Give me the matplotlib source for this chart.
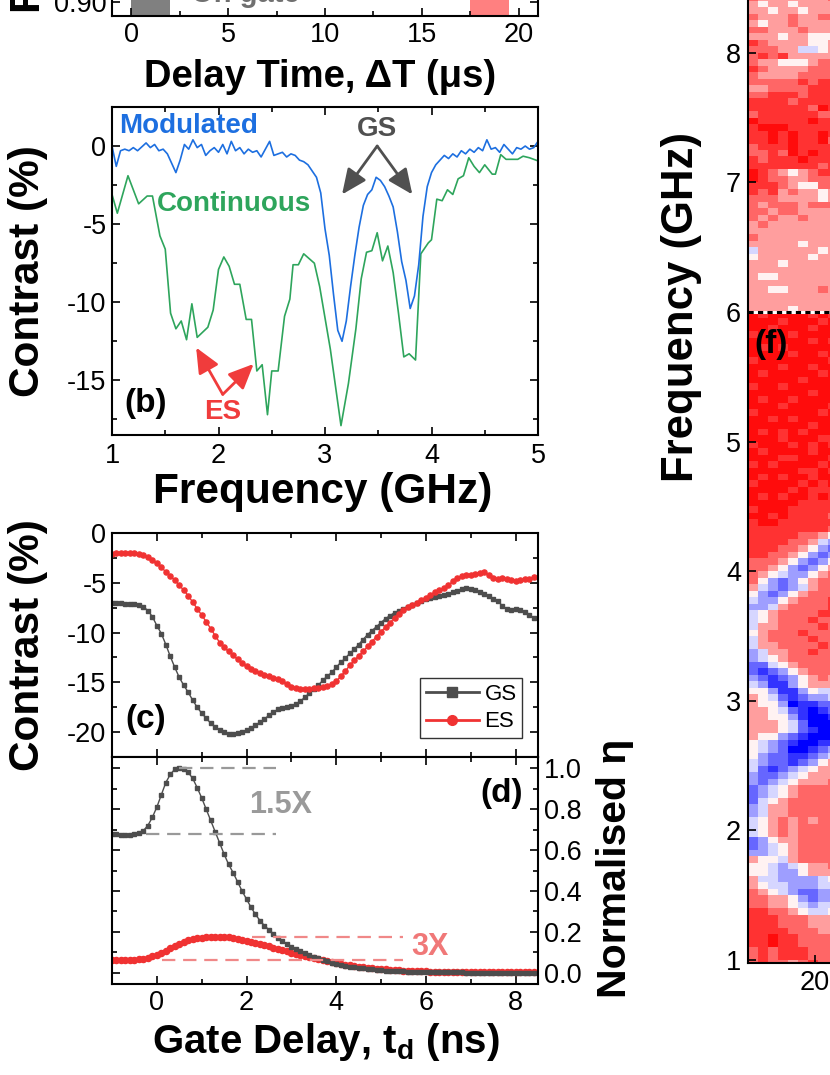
import numpy as np
import matplotlib
matplotlib.use('Agg')
import matplotlib.pyplot as plt
from matplotlib.ticker import MultipleLocator
from matplotlib.lines import Line2D

plt.rcParams['font.family'] = 'Liberation Sans'
plt.rcParams['mathtext.fontset'] = 'custom'
plt.rcParams['mathtext.rm'] = 'Liberation Sans'
plt.rcParams['mathtext.bf'] = 'Liberation Sans:bold'
plt.rcParams['axes.unicode_minus'] = False

# ---------------- data ----------------
# (a) gate windows on the delay-time axis (us)
gate_windows = [(0.0, 2.0), (17.5, 19.5)]
gate_colors = ['#808080', '#ff8080']

# (b) ODMR contrast vs frequency
mod_contrast = [
    0.0, -1.3, -0.3, -0.2, -0.3, -0.1, -0.3, -0.05, 0.2, -0.1,
    0.1, -0.3, -0.2, -0.5, -1.1, -1.7, -0.9, 0.1, -0.2, 0.4,
    -0.1, 0.1, -0.6, -0.3, -0.1, -0.4, 0.1, -0.5, 0.3, -0.3,
    -0.1, -0.5, -0.2, -0.4, -0.3, -0.7, -0.2, 0.3, -0.6, -0.5,
    -0.4, -0.7, -0.5, -0.6, -0.9, -1.0, -1.2, -1.6, -2.0, -3.0,
    -5.3, -7.0, -9.5, -11.8, -12.5, -11.2, -9.0, -7.0, -5.2, -3.8,
    -3.1, -2.8, -2.0, -2.2, -2.6, -3.2, -3.9, -5.5, -7.4, -8.6,
    -10.4, -9.6, -7.6, -4.5, -2.6, -1.7, -1.2, -0.9, -0.6, -0.8,
    -0.5, -0.7, -0.3, -0.5, -0.2, -0.4, -0.1, -0.3, 0.4, -0.2,
    -0.1, -0.4, 0.1, -0.2, -0.5, -0.1, -0.2, 0.0, -0.2, -0.1,
    0.3]
mod_freq = np.linspace(1.0, 5.0, len(mod_contrast))

cont_freq = [1.00, 1.05, 1.15, 1.25, 1.33, 1.38, 1.45, 1.50, 1.55, 1.60,
             1.65, 1.70, 1.75, 1.80, 1.90, 1.95, 2.00, 2.05, 2.10, 2.15,
             2.20, 2.26, 2.31, 2.36, 2.41, 2.46, 2.50, 2.56, 2.62, 2.67,
             2.70, 2.75, 2.80, 2.90, 2.95, 3.05, 3.15, 3.22, 3.29, 3.34,
             3.39, 3.44, 3.49, 3.54, 3.59, 3.64, 3.69, 3.74, 3.79, 3.85,
             3.90, 3.97, 4.00, 4.05, 4.10, 4.15, 4.20, 4.25, 4.30, 4.35,
             4.40, 4.45, 4.50, 4.57, 4.60, 4.65, 4.70, 4.76, 4.81, 4.86,
             4.92, 5.00]
cont_contrast = [-3.1, -4.3, -1.9, -3.7, -3.2, -3.2, -5.75, -6.6, -10.7, -11.7,
                 -11.2, -12.4, -10.1, -12.25, -11.6, -10.5, -7.9, -7.1, -7.7, -8.85,
                 -8.85, -11.1, -11.1, -14.4, -14.0, -17.2, -14.4, -14.4, -10.9, -9.8,
                 -7.6, -7.6, -6.9, -7.5, -9.0, -13.0, -17.9, -15.2, -11.7, -8.5,
                 -6.8, -6.7, -5.55, -7.35, -6.4, -8.1, -10.7, -13.5, -13.3, -13.7,
                 -6.9, -6.2, -6.0, -3.4, -3.5, -2.8, -3.1, -2.1, -1.9, -0.75,
                 -1.3, -1.7, -1.2, -1.8, -1.8, -0.55, -0.85, -0.85, -0.85, -0.65,
                 -0.75, -0.95]

# (c), (d) gate-delay scans, t_d = -1.0 ... 8.4 ns
gate_delay = np.round(np.arange(-1.0, 8.45, 0.1), 1)
gs_contrast = [
    -7.07, -7.07, -7.08, -7.1, -7.1, -7.12, -7.2, -7.4, -7.8, -8.4,
    -9.3, -10.1, -11.2, -12.4, -13.5, -14.5, -15.3, -16.0, -16.8, -17.5,
    -18.1, -18.6, -19.1, -19.5, -19.8, -20.0, -20.2, -20.2, -20.1, -20.0,
    -19.8, -19.6, -19.3, -19.0, -18.7, -18.3, -18.0, -17.7, -17.6, -17.5,
    -17.4, -17.2, -16.9, -16.5, -16.1, -15.7, -15.3, -14.8, -14.4, -14.0,
    -13.5, -13.0, -12.6, -12.1, -11.7, -11.2, -10.7, -10.2, -9.8, -9.4,
    -9.0, -8.6, -8.3, -8.0, -7.8, -7.6, -7.4, -7.2, -7.0, -6.8,
    -6.65, -6.5, -6.4, -6.3, -6.2, -6.1, -5.95, -5.8, -5.65, -5.5,
    -5.6, -5.75, -5.95, -6.15, -6.35, -6.6, -6.8, -7.3, -7.6, -7.7,
    -7.6, -7.7, -7.9, -8.2, -8.5]
es_contrast = [
    -2.07, -2.05, -2.03, -2.03, -2.05, -2.05, -2.1, -2.25, -2.45, -2.75,
    -3.05, -3.45, -3.9, -4.3, -4.75, -5.25, -5.75, -6.3, -6.95, -7.6,
    -8.25, -8.9, -9.6, -10.3, -11.0, -11.5, -11.9, -12.3, -12.7, -13.1,
    -13.4, -13.65, -13.9, -14.05, -14.25, -14.4, -14.55, -14.7, -14.9, -15.2,
    -15.45, -15.6, -15.7, -15.7, -15.65, -15.6, -15.55, -15.45, -15.35, -15.2,
    -14.9, -14.4, -13.9, -13.3, -12.8, -12.35, -11.9, -11.4, -10.9, -10.4,
    -9.9, -9.45, -9.0, -8.55, -8.1, -7.75, -7.45, -7.25, -7.0, -6.75,
    -6.5, -6.2, -5.95, -5.75, -5.5, -5.25, -4.85, -4.5, -4.35, -4.25,
    -4.2, -4.1, -4.0, -3.95, -4.2, -4.5, -4.65, -4.55, -4.6, -4.75,
    -4.8, -4.7, -4.65, -4.6, -4.45]
gs_eta = [
    0.677, 0.677, 0.676, 0.675, 0.676, 0.678, 0.682, 0.695, 0.72, 0.76,
    0.81, 0.87, 0.93, 0.97, 0.995, 1.0, 0.995, 0.98, 0.95, 0.905,
    0.855, 0.80, 0.745, 0.69, 0.635, 0.58, 0.53, 0.49, 0.445, 0.40,
    0.36, 0.32, 0.285, 0.255, 0.23, 0.21, 0.19, 0.17, 0.155, 0.14,
    0.128, 0.117, 0.105, 0.095, 0.086, 0.078, 0.071, 0.064, 0.057, 0.05,
    0.044, 0.04, 0.035, 0.03, 0.027, 0.024, 0.021, 0.018, 0.016, 0.014,
    0.012, 0.011, 0.01, 0.009, 0.008, 0.007, 0.006, 0.005, 0.005, 0.004,
    0.004, 0.003, 0.003, 0.003, 0.002, 0.002, 0.002, 0.002, 0.002, 0.001,
    0.001, 0.001, 0.001, 0.001, 0.001, 0.001, 0.001, 0.001, 0.001, 0.001,
    0.001, 0.001, 0.001, 0.001, 0.001]
es_eta = [
    0.062, 0.062, 0.062, 0.062, 0.062, 0.063, 0.065, 0.069, 0.074, 0.08,
    0.088, 0.097, 0.108, 0.12, 0.132, 0.142, 0.151, 0.158, 0.164, 0.168,
    0.172, 0.174, 0.176, 0.177, 0.177, 0.176, 0.174, 0.171, 0.167, 0.162,
    0.157, 0.152, 0.146, 0.141, 0.135, 0.129, 0.123, 0.117, 0.111, 0.105,
    0.099, 0.093, 0.088, 0.082, 0.077, 0.072, 0.067, 0.062, 0.057, 0.053,
    0.048, 0.044, 0.04, 0.036, 0.032, 0.029, 0.026, 0.024, 0.022, 0.02,
    0.018, 0.016, 0.015, 0.013, 0.012, 0.011, 0.01, 0.009, 0.008, 0.008,
    0.007, 0.006, 0.006, 0.005, 0.005, 0.005, 0.004, 0.004, 0.004, 0.003,
    0.003, 0.003, 0.003, 0.003, 0.002, 0.002, 0.002, 0.002, 0.002, 0.002,
    0.002, 0.002, 0.002, 0.002, 0.002]

# (e)/(f) colour map, rows listed top -> bottom, one digit per column
# digit level: 0 deep blue ... 5 white ... 9 deep red
level_value = {'0': -1.0, '1': -0.8, '2': -0.6, '3': -0.38, '4': -0.16,
               '5': 0.05, '6': 0.38, '7': 0.6, '8': 0.8, '9': 0.95}
map_upper = [
    "666666666", "766666667",
    "656656666", "665665666", "766676677", "656676666", "776667666",
    "666566555", "876666556", "777664456", "787866666", "766555677",
    "876666777", "766667777", "777778788", "667777888", "778887888",
    "888878888", "888888798", "788888877", "988888988", "899988888",
    "889898898", "889898897", "788898888", "778798988", "878889888",
    "888888878", "987656788", "987766777", "888765577", "878676656",
    "777666656", "767776777", "776776666", "767667666", "676666666",
    "666666666", "766666666", "666665666", "466666656", "566666566",
    "666566666", "666666666", "655666666", "666666666", "665566676",
    "666666666", "666666666", "666656666"]
map_lower = [
    "989999898", "999899989", "998999899", "899989999", "999999898",
    "989899999", "999989989", "899999998", "999899899", "989999989",
    "999998999", "899899999", "999999899", "989989999", "999899998",
    "899999989", "998989999", "999999899", "989898999", "999899988",
    "899989898", "989999899", "999889998", "898999989", "999998898",
    "989899899", "899998989", "999989888", "989899898", "999998888",
    "899988888", "998988887", "899888888", "888888887",
    "888887765", "888877643", "888776532", "887765323", "777653235",
    "776532356", "765433567", "753235677", "643234677", "532356777",
    "433567778", "334677778", "456777788", "456777877", "466777787",
    "567778777", "467777877", "466777787", "346677877", "345677777",
    "224567777", "212356777", "321235676", "431135666", "553113544",
    "654212334", "655301122", "665421012", "665531001", "666542000",
    "666542100", "655321000", "543210011", "543200123", "532211234",
    "432212356", "421234566", "322345666", "323456667", "234567777",
    "234567777", "245677777", "346677777", "346677777", "456767677",
    "456767777", "456767777", "235667777", "234567777", "334567777",
    "655467777", "554345667", "554335666", "644333345", "654433344",
    "765432233", "776653233", "776654344", "887765445", "888777666",
    "888777666", "888877766", "889887777", "889887777", "787888777",
    "787888777", "787767877"]
map_cols = np.arange(10) + 13.3

# ---------------- figure ----------------
fig = plt.figure(figsize=(8.3, 10.75), dpi=100)


def px_box(left, top, right, bottom):
    return [left / 830, 1 - bottom / 1075, (right - left) / 830, (bottom - top) / 1075]


def style(ax, pad=4):
    for s in ax.spines.values():
        s.set_linewidth(1.5)
    ax.tick_params(which='both', direction='in', top=True, right=True,
                   width=1.2, labelsize=19.5, pad=pad)
    ax.tick_params(which='major', length=6)
    ax.tick_params(which='minor', length=3.5)


LABEL = dict(fontsize=30.5, fontweight='bold')

# (a) bottom strip of the delay-time panel
ax_a = fig.add_axes(px_box(112, -100, 538, 16))
for (x0, x1), c in zip(gate_windows, gate_colors):
    ax_a.axvspan(x0, x1, color=c, lw=0)
ax_a.set_xlim(-1, 21)
ax_a.set_ylim(0.88, 1.04)
ax_a.xaxis.set_major_locator(MultipleLocator(5))
ax_a.xaxis.set_minor_locator(MultipleLocator(2.5))
ax_a.set_yticks([0.90, 0.95, 1.00])
ax_a.set_yticklabels(['0.90', '0.95', '1.00'])
style(ax_a, pad=4)
ax_a.text(3.1, 0.8993, 'On gate', color='#707070', fontsize=21,
          fontweight='bold', va='baseline')
fig.text(29 / 830, 1 - 13 / 1075, 'Fluorescence (norm.)', rotation=90,
         ha='center', va='bottom', **LABEL)
fig.text(320 / 830, 1 - 77 / 1075, 'Delay Time, \u0394T (\u03bcs)',
         ha='center', va='center', fontsize=27.5, fontweight='bold')

# (b) ODMR spectra
ax_b = fig.add_axes(px_box(112, 107, 538, 435))
ax_b.plot(cont_freq, cont_contrast, color='#2ea55c', lw=1.2)
ax_b.plot(mod_freq, mod_contrast, color='#1d6fe0', lw=1.2)
ax_b.set_xlim(1, 5)
ax_b.set_ylim(-18.5, 2.5)
ax_b.xaxis.set_major_locator(MultipleLocator(1))
ax_b.xaxis.set_minor_locator(MultipleLocator(0.5))
ax_b.yaxis.set_major_locator(MultipleLocator(5))
ax_b.yaxis.set_minor_locator(MultipleLocator(2.5))
style(ax_b, pad=6)
ax_b.tick_params(axis='y', pad=4)
ax_b.text(1.07, 1.3, 'Modulated', color='#1d6fe0', fontsize=20,
          fontweight='bold', va='center')
ax_b.text(1.42, -3.73, 'Continuous', color='#2ea55c', fontsize=20,
          fontweight='bold', va='center')
ax_b.text(3.49, 1.1, 'GS', color='#505050', fontsize=20,
          fontweight='bold', ha='center', va='center')
ax_b.text(2.04, -17.05, 'ES', color='#f03c3c', fontsize=20,
          fontweight='bold', ha='center', va='center')
ax_b.text(1.32, -16.5, '(b)', fontsize=24, fontweight='bold',
          ha='center', va='center')
arrow_gs = dict(arrowstyle='-|>,head_length=0.9,head_width=0.4', color='#505050',
                lw=2, shrinkA=0, shrinkB=0, mutation_scale=17)
arrow_es = dict(arrowstyle='-|>,head_length=0.9,head_width=0.4', color='#f03c3c',
                lw=2, shrinkA=0, shrinkB=0, mutation_scale=17)
for tip in [(3.16, -3.1), (3.82, -3.1)]:
    ax_b.annotate('', xy=tip, xytext=(3.49, 0.0), arrowprops=arrow_gs)
for tip in [(1.79, -12.9), (2.33, -13.95)]:
    ax_b.annotate('', xy=tip, xytext=(2.04, -15.9), arrowprops=arrow_es)
fig.text(28 / 830, 1 - 271 / 1075, 'Contrast (%)', rotation=90,
         ha='center', va='center', **LABEL)
fig.text(323 / 830, 1 - 492 / 1075, 'Frequency (GHz)', ha='center',
         va='center', **LABEL)

# (c) contrast vs gate delay
ax_c = fig.add_axes(px_box(112, 533, 538, 757))
ax_c.plot(gate_delay, gs_contrast, color='#4d4d4d', lw=1, marker='s',
          ms=3.5, mec='#4d4d4d')
ax_c.plot(gate_delay, es_contrast, color='#f03232', lw=1, marker='o',
          ms=3.7, mec='#f03232')
ax_c.set_xlim(-1, 8.5)
ax_c.set_ylim(-22.5, 0)
ax_c.xaxis.set_major_locator(MultipleLocator(2))
ax_c.xaxis.set_minor_locator(MultipleLocator(1))
ax_c.yaxis.set_major_locator(MultipleLocator(5))
ax_c.yaxis.set_minor_locator(MultipleLocator(2.5))
style(ax_c, pad=4)
ax_c.tick_params(axis='x', labelbottom=False)
handles = [Line2D([], [], color='#4d4d4d', marker='s', ms=7, lw=2),
           Line2D([], [], color='#f03232', marker='o', ms=7, lw=2)]
leg = ax_c.legend(handles, ['GS', 'ES'], loc='lower right',
                  bbox_to_anchor=(0.963, 0.085), borderaxespad=0, fontsize=16,
                  frameon=True, fancybox=False, handlelength=2.4,
                  handletextpad=0.25, borderpad=0.25, labelspacing=0.3)
leg.get_frame().set_edgecolor('black')
leg.get_frame().set_linewidth(1)
ax_c.text(-0.24, -18.7, '(c)', fontsize=24, fontweight='bold',
          ha='center', va='center')
fig.text(28 / 830, 1 - 645 / 1075, 'Contrast (%)', rotation=90,
         ha='center', va='center', **LABEL)

# (d) normalised efficiency
ax_d = fig.add_axes(px_box(112, 757, 538, 984))
ax_d.plot(gate_delay, es_eta, color='#f03232', lw=1, marker='o', ms=4.4,
          mec='#f03232')
ax_d.plot(gate_delay, gs_eta, color='#4d4d4d', lw=1, marker='s', ms=2.8,
          mec='#4d4d4d')
ax_d.set_xlim(-1, 8.5)
ax_d.set_ylim(-0.055, 1.055)
ax_d.xaxis.set_major_locator(MultipleLocator(2))
ax_d.xaxis.set_minor_locator(MultipleLocator(1))
ax_d.yaxis.set_major_locator(MultipleLocator(0.2))
ax_d.yaxis.set_minor_locator(MultipleLocator(0.1))
style(ax_d, pad=4)
ax_d.tick_params(axis='y', labelleft=False, labelright=True)
ax_d.yaxis.set_major_formatter(plt.FormatStrFormatter('%.1f'))
gs_peak, gs_base = max(gs_eta), gs_eta[0]
es_peak, es_base = max(es_eta), es_eta[0]
dash = (0, (6, 3.5))
ax_d.plot([0.5, 2.65], [gs_peak, gs_peak], color='#999999', lw=1.6, ls=dash)
ax_d.plot([-0.24, 2.65], [gs_base, gs_base], color='#999999', lw=1.6, ls=dash)
ax_d.plot([2.12, 5.5], [es_peak, es_peak], color='#f08888', lw=1.6, ls=dash)
ax_d.plot([0.11, 5.5], [es_base, es_base], color='#f08888', lw=1.6, ls=dash)
ax_d.text(2.75, 0.82, '%.1fX' % (gs_peak / gs_base), color='#9a9a9a',
          fontsize=22, fontweight='bold', ha='center', va='center')
ax_d.text(6.09, 0.127, '%dX' % round(es_peak / es_base), color='#f07878',
          fontsize=22, fontweight='bold', ha='center', va='center')
ax_d.text(7.69, 0.878, '(d)', fontsize=24, fontweight='bold',
          ha='center', va='center')
fig.text(615 / 830, 1 - 868 / 1075, 'Normalised \u03b7', rotation=90,
         ha='center', va='center', fontsize=29.5, fontweight='bold')
fig.text(326 / 830, 1 - 1042 / 1075, r'Gate Delay, t$_\mathbf{d}$ (ns)',
         ha='center', va='center', fontsize=29, fontweight='bold')

# (e)/(f) frequency map
ax_h = fig.add_axes(px_box(748, -12, 838, 963))
up = np.array([[level_value[c] for c in row] for row in map_upper])[::-1]
low = np.array([[level_value[c] for c in row] for row in map_lower])[::-1]
f_up = np.linspace(6.0, 6.0 + 0.05 * len(map_upper), len(map_upper) + 1)
f_low = np.linspace(6.0 - 0.05 * len(map_lower), 6.0, len(map_lower) + 1)
ax_h.pcolormesh(map_cols, f_low, low, cmap='bwr', vmin=-1, vmax=1)
ax_h.pcolormesh(map_cols, f_up, up, cmap='bwr', vmin=-1, vmax=1)
ax_h.axhline(6.0, color='white', lw=2.2)
ax_h.axhline(6.0, color='black', lw=2.2, ls=(0, (1.7, 1.4)))
ax_h.set_xlim(map_cols[0], map_cols[-1])
ax_h.set_ylim(0.977, 8.5)
ax_h.set_xticks([20])
ax_h.set_yticks(range(1, 9))
for s in ax_h.spines.values():
    s.set_linewidth(1.5)
ax_h.tick_params(direction='in', width=1.2, length=6, labelsize=19.5, pad=5)
ax_h.text(15.6, 5.75, '(f)', fontsize=24, fontweight='bold',
          ha='center', va='center')
fig.text(681 / 830, 1 - 307 / 1075, 'Frequency (GHz)', rotation=90,
         ha='center', va='center', fontsize=31.5, fontweight='bold')

fig.savefig('out.png', dpi=100)
